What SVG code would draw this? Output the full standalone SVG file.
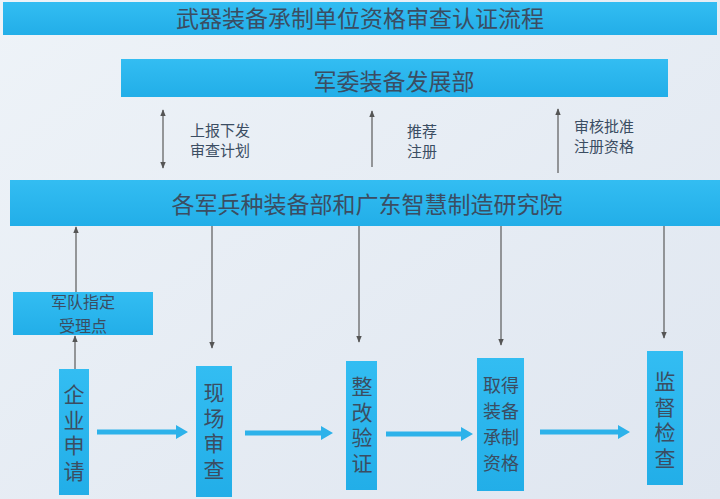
<svg xmlns="http://www.w3.org/2000/svg" width="720" height="499" viewBox="0 0 720 499">
<defs>
<linearGradient id="bg" x1="0" y1="0" x2="1" y2="1">
<stop offset="0" stop-color="#eef3f8"/>
<stop offset="1" stop-color="#dfe6f0"/>
</linearGradient>
<linearGradient id="blue" x1="0" y1="0" x2="0" y2="1">
<stop offset="0" stop-color="#33bdf2"/>
<stop offset="1" stop-color="#22aee8"/>
</linearGradient>
<marker id="ah" viewBox="0 0 10 10" refX="9" refY="5" markerWidth="7" markerHeight="7" orient="auto-start-reverse" markerUnits="userSpaceOnUse">
<path d="M0,1 L10,5 L0,9 Z" fill="#555"/>
</marker>
<style>
.bar{fill:url(#blue)}
.t{font-family:"Noto Sans CJK SC","Noto Sans",sans-serif;fill:#3b4d62;text-anchor:middle}
.big{font-size:23px}
.lab{font-size:15px;text-anchor:start}
.v{font-size:21px;writing-mode:vertical-rl;text-anchor:start;letter-spacing:4.5px}
.q{font-size:18px}
.s{font-size:16px}
.c{stroke:#5a5a5a;stroke-width:1.2;fill:none}
.fa{fill:#2db2ea}
</style>
</defs>
<rect width="720" height="499" fill="url(#bg)"/>

<g id="title">
<rect class="bar" x="3" y="2" width="714" height="33"/>
<text class="t big" x="360" y="27">武器装备承制单位资格审查认证流程</text>
</g>

<g id="jwzb">
<rect class="bar" x="121" y="59" width="547" height="38"/>
<text class="t big" x="394" y="90">军委装备发展部</text>
</g>

<g id="gjbz">
<rect class="bar" x="10" y="180" width="710" height="46"/>
<text class="t big" x="367" y="213">各军兵种装备部和广东智慧制造研究院</text>
</g>

<g id="jdzd">
<rect class="bar" x="13" y="292" width="140" height="43"/>
<text class="t s" x="83" y="308">军队指定</text>
<text class="t s" x="83" y="331.5">受理点</text>
</g>

<g id="qysq">
<rect class="bar" x="59" y="369" width="30" height="126"/>
<text class="t v" x="74" y="384">企业申请</text>
</g>

<g id="xcsc">
<rect class="bar" x="196" y="366" width="36" height="131"/>
<text class="t v" x="214" y="382">现场审查</text>
</g>

<g id="zgyz">
<rect class="bar" x="346" y="361" width="31" height="129"/>
<text class="t v" x="362" y="376">整改验证</text>
</g>

<g id="qdzb">
<rect class="bar" x="477" y="358" width="47" height="133"/>
<text class="t q" x="501" y="391.5">取得</text>
<text class="t q" x="501" y="417.8">装备</text>
<text class="t q" x="501" y="444.1">承制</text>
<text class="t q" x="501" y="470.4">资格</text>
</g>

<g id="jdjc">
<rect class="bar" x="647" y="351" width="36" height="134"/>
<text class="t v" x="665" y="371">监督检查</text>
</g>

<g id="labels">
<text class="t lab" x="190" y="136">上报下发</text>
<text class="t lab" x="190" y="156">审查计划</text>
<text class="t lab" x="407" y="137">推荐</text>
<text class="t lab" x="407" y="157">注册</text>
<text class="t lab" x="574" y="132">审核批准</text>
<text class="t lab" x="574" y="152">注册资格</text>
</g>

<g id="connectors">
<line class="c" x1="163" y1="110" x2="163" y2="168" marker-start="url(#ah)" marker-end="url(#ah)"/>
<line class="c" x1="372" y1="167" x2="372" y2="111" marker-end="url(#ah)"/>
<line class="c" x1="558" y1="173" x2="558" y2="109" marker-end="url(#ah)"/>
<line class="c" x1="76" y1="292" x2="76" y2="227" marker-end="url(#ah)"/>
<line class="c" x1="75" y1="369" x2="75" y2="336" marker-end="url(#ah)"/>
<line class="c" x1="212" y1="226" x2="212" y2="348" marker-end="url(#ah)"/>
<line class="c" x1="359" y1="226" x2="359" y2="342" marker-end="url(#ah)"/>
<line class="c" x1="501" y1="226" x2="501" y2="345" marker-end="url(#ah)"/>
<line class="c" x1="664" y1="226" x2="664" y2="338" marker-end="url(#ah)"/>
<polygon class="fa" points="97,429.5 176,429.5 176,425 188,432 176,439 176,434.5 97,434.5"/>
<polygon class="fa" points="245,430.5 321,430.5 321,426 333,433 321,440 321,435.5 245,435.5"/>
<polygon class="fa" points="386,431.5 461,431.5 461,427 473,434 461,441 461,436.5 386,436.5"/>
<polygon class="fa" points="540,429.5 618,429.5 618,425 630,432 618,439 618,434.5 540,434.5"/>
</g>
</svg>
